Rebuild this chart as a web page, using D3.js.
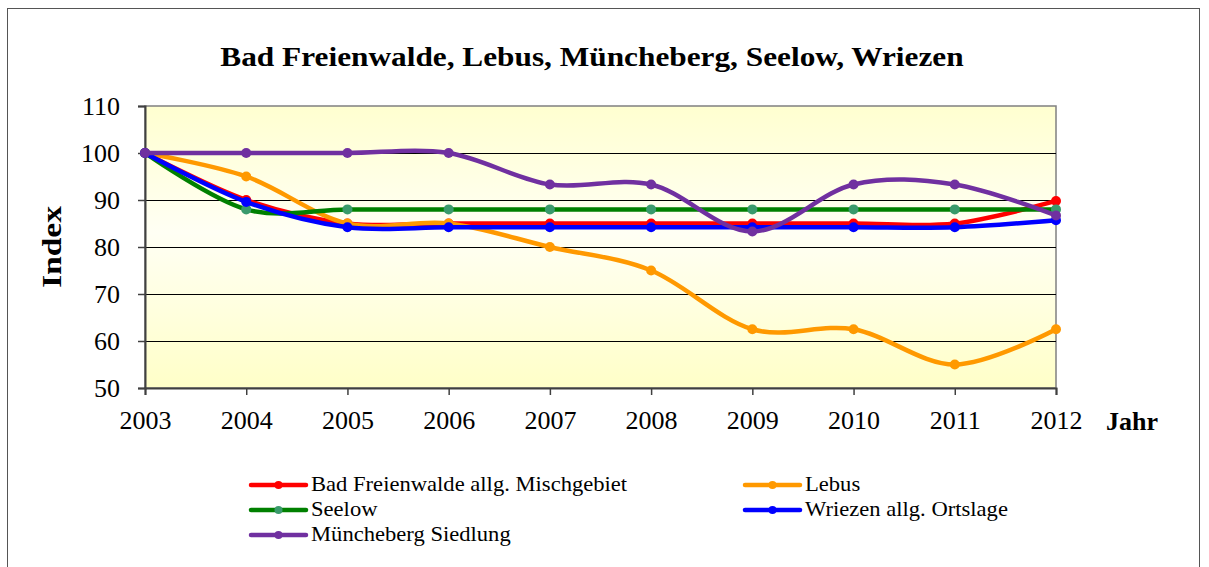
<!DOCTYPE html>
<html>
<head>
<meta charset="utf-8">
<script src="https://cdn.jsdelivr.net/npm/d3@7"></script>
<style>
  body { margin: 0; background: #fff; }
  svg text { font-family: "Liberation Serif", "Times New Roman", Times, serif !important; }
</style>
</head>
<body>
<div id="chart"></div>
<script>
const years = [2003, 2004, 2005, 2006, 2007, 2008, 2009, 2010, 2011, 2012];
const yTicks = [50, 60, 70, 80, 90, 100, 110];

const badFreienwalde = [100, 90, 85, 85, 85, 85, 85, 85, 85, 89.8];
const lebus = [100, 95, 85, 85, 80, 75, 62.5, 62.5, 55, 62.5];
const seelow = [100, 88, 88, 88, 88, 88, 88, 88, 88, 88];
const wriezen = [100, 89.6, 84.2, 84.2, 84.2, 84.2, 84.2, 84.2, 84.2, 85.7];
const muencheberg = [100, 100, 100, 100, 93.3, 93.3, 83.3, 93.3, 93.3, 86.7];

const seriesNames = [
  "Bad Freienwalde allg. Mischgebiet",
  "Lebus",
  "Seelow",
  "Wriezen allg. Ortslage",
  "Müncheberg Siedlung"
];
const lineColors = ["#ff0000", "#ff9900", "#008000", "#0000ff", "#7030a0"];
const markerColors = ["#ff0000", "#ff9900", "#3a9a6c", "#0000ff", "#7030a0"];

const series = [badFreienwalde, lebus, seelow, wriezen, muencheberg].map((vals, i) => ({
  name: seriesNames[i],
  line: lineColors[i],
  marker: markerColors[i],
  values: vals.map((v, j) => ({ year: years[j], value: v }))
}));

const width = 1209;
const height = 567;
const margin = { top: 106, right: 153, bottom: 179, left: 145 };
const serif = "'Liberation Serif', 'Times New Roman', serif";

const svg = d3
  .select("#chart")
  .append("svg")
  .attr("width", width)
  .attr("height", height);

// rahmen
svg
  .append("rect")
  .attr("x", 7.5)
  .attr("y", 8.5)
  .attr("width", 1192)
  .attr("height", 600)
  .attr("fill", "#fff")
  .attr("stroke", "#555")
  .attr("stroke-width", 1);

const defs = svg.append("defs");
const grad = defs
  .append("linearGradient")
  .attr("id", "bg")
  .attr("x1", 0)
  .attr("y1", 0)
  .attr("x2", 0)
  .attr("y2", 1);
grad.append("stop").attr("offset", "0%").attr("stop-color", "#ffffd0");
grad.append("stop").attr("offset", "45%").attr("stop-color", "#fffff4");
grad.append("stop").attr("offset", "100%").attr("stop-color", "#ffffc8");

const x = d3
  .scaleLinear()
  .domain([2003, 2012])
  .range([margin.left, width - margin.right]);

const y = d3
  .scaleLinear()
  .domain([50, 110])
  .range([height - margin.bottom, margin.top]);

svg
  .append("rect")
  .attr("x", x(2003))
  .attr("y", y(110))
  .attr("width", x(2012) - x(2003))
  .attr("height", y(50) - y(110))
  .attr("fill", "url(#bg)")
  .attr("stroke", "#808080")
  .attr("stroke-width", 1.5);

// gitterlinien
svg
  .append("g")
  .selectAll("line")
  .data(yTicks.filter((t) => t > 50 && t < 110))
  .join("line")
  .attr("x1", x(2003))
  .attr("x2", x(2012))
  .attr("y1", (d) => Math.round(y(d)) + 0.5)
  .attr("y2", (d) => Math.round(y(d)) + 0.5)
  .attr("stroke", "#000")
  .attr("stroke-width", 1);

// y achse
const yAxis = svg
  .append("g")
  .attr("transform", `translate(${x(2003)},0)`)
  .call(d3.axisLeft(y).tickValues(yTicks).tickSize(7).tickPadding(18));
yAxis.attr("font-family", serif);
yAxis.select(".domain").attr("stroke", "#404040").attr("stroke-width", 2);
yAxis.selectAll(".tick line").attr("stroke", "#404040").attr("stroke-width", 1.5);
yAxis
  .selectAll("text")
  .attr("font-size", 26)
  .attr("fill", "#000");

// x achse
const xAxis = svg
  .append("g")
  .attr("transform", `translate(0,${y(50)})`)
  .call(
    d3.axisBottom(x).tickValues(years).tickFormat(d3.format("d")).tickSize(7).tickPadding(16)
  );
xAxis.attr("font-family", serif);
xAxis.select(".domain").attr("stroke", "#404040").attr("stroke-width", 2);
xAxis.selectAll(".tick line").attr("stroke", "#404040").attr("stroke-width", 1.5);
xAxis
  .selectAll("text")
  .attr("font-size", 26)
  .attr("fill", "#000");

// linien
const line = d3
  .line()
  .x((d) => x(d.year))
  .y((d) => y(d.value))
  .curve(d3.curveCardinal.tension(0));

const sg = svg
  .append("g")
  .selectAll("g")
  .data(series)
  .join("g");

sg.append("path")
  .attr("d", (d) => line(d.values))
  .attr("fill", "none")
  .attr("stroke", (d) => d.line)
  .attr("stroke-width", 4.5)
  .attr("stroke-linejoin", "round");

sg.selectAll("circle")
  .data((d) => d.values.map((v) => ({ ...v, color: d.marker })))
  .join("circle")
  .attr("cx", (d) => x(d.year))
  .attr("cy", (d) => y(d.value))
  .attr("r", 5)
  .attr("fill", (d) => d.color);

// titel (im original leicht in die breite gezogen)
svg
  .append("g")
  .attr("transform", "translate(592,66) scale(1.16,1)")
  .append("text")
  .attr("text-anchor", "middle")
  .attr("font-weight", "bold")
  .attr("font-size", 27)
  .text("Bad Freienwalde, Lebus, Müncheberg, Seelow, Wriezen");

svg
  .append("g")
  .attr("transform", `translate(61,${(y(50) + y(110)) / 2}) rotate(-90) scale(1.2,1)`)
  .append("text")
  .attr("text-anchor", "middle")
  .attr("font-weight", "bold")
  .attr("font-size", 28)
  .text("Index");

svg
  .append("text")
  .attr("x", 1106)
  .attr("y", 430)
  .attr("font-weight", "bold")
  .attr("font-size", 26)
  .text("Jahr");

// legende
const legendPos = [
  [251, 485],
  [745, 485],
  [251, 510],
  [745, 510],
  [251, 535]
];
const lg = svg
  .append("g")
  .selectAll("g")
  .data(series)
  .join("g")
  .attr("transform", (d, i) => `translate(${legendPos[i][0]},${legendPos[i][1]})`);

lg.append("line")
  .attr("x1", 0)
  .attr("x2", 55)
  .attr("stroke", (d) => d.line)
  .attr("stroke-width", 4.5)
  .attr("stroke-linecap", "round");
lg.append("circle")
  .attr("cx", 27.5)
  .attr("r", 4)
  .attr("fill", (d) => d.marker);
lg.append("g")
  .attr("transform", "translate(60,6) scale(1.13,1)")
  .append("text")
  .attr("font-size", 20)
  .text((d) => d.name);
</script>
</body>
</html>
